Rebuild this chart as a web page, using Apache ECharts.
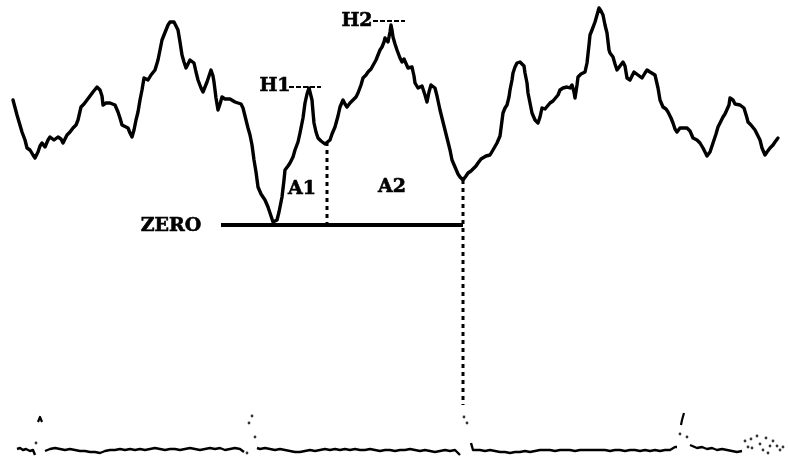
<!DOCTYPE html>
<html><head><meta charset="utf-8">
<script src="https://cdn.jsdelivr.net/npm/echarts@6/dist/echarts.min.js"></script>
<style>html,body{margin:0;padding:0;background:#fff}#c{width:788px;height:458px}</style>
</head><body><div id="c"></div>
<script>
// Main waveform: time (sample) and amplitude relative to ZERO line
var waveT = [13,17,22,25,27,30,33,35,38,40,42,45,48,50,54,58,61,63,67,70,73,76,78,81,84,87,90,93,97,100,102,103,106,110,115,118,120,122,124,128,130,132,134,136,138,140,142,144,146,148,151,155,158,160,162,164,166,168,170,172,174,176,178,180,182,184,186,188,190,192,194,196,198,201,203,205,207,209,211,213,214,216,218,220,222,225,227,230,232,235,238,241,243,246,248,250,252,254,256,258,261,265,268,270,272,273,275,277,279,282,284,285,288,290,293,295,298,300,303,305,307,309,310,312,313,314,316,318,321,323,325,327,330,332,335,338,340,343,345,347,350,353,356,358,361,363,366,368,371,373,376,378,380,382,384,385,387,388,390,391,392,393,395,397,400,402,404,405,408,410,412,414,415,418,420,422,423,425,427,429,431,433,435,437,440,442,445,448,450,452,455,458,460,463,466,468,471,473,476,478,481,483,486,490,493,497,500,503,505,507,509,510,512,513,515,517,520,522,524,525,527,528,530,532,535,538,540,542,545,547,550,553,555,558,560,563,567,570,572,574,575,577,578,581,585,587,589,590,592,595,597,599,601,603,605,607,609,610,613,615,617,620,623,625,627,630,632,634,635,638,640,642,643,645,647,650,652,655,656,658,660,663,666,668,671,673,675,677,680,684,687,690,692,693,697,700,703,705,707,708,710,713,716,718,721,723,725,727,729,730,732,733,735,737,740,742,744,745,747,748,751,753,755,757,758,760,762,765,767,770,773,775,778];
var waveV = [125,110,93,85,77,75,70,67,73,79,82,78,85,88,85,88,86,82,90,93,97,100,105,118,121,125,129,133,138,135,129,120,122,122,120,113,107,100,98,97,92,88,95,105,113,125,135,147,149,145,150,155,165,175,185,190,195,200,203,204,203,199,195,183,170,163,157,161,165,167,162,153,145,137,133,138,143,149,155,149,143,127,115,121,128,126,125,126,125,123,122,121,117,105,97,90,80,65,53,38,31,25,18,12,6,3,3,5,13,28,45,55,59,62,68,75,83,92,107,122,131,137,135,125,113,102,93,87,84,82,81,83,85,91,98,109,118,125,121,118,122,125,128,132,140,147,150,153,156,158,165,170,175,178,183,187,185,183,193,200,195,188,181,175,167,163,166,165,157,159,158,149,142,137,135,139,138,130,123,133,140,140,137,129,115,107,95,83,75,65,58,51,48,45,49,52,54,55,59,62,66,68,69,70,75,82,89,112,117,120,128,135,145,152,158,162,163,163,159,152,142,132,122,112,105,102,108,117,116,117,122,124,125,130,135,137,138,137,140,133,127,140,148,151,153,162,180,190,195,203,210,217,214,210,200,192,175,172,168,161,155,159,163,159,147,145,145,153,155,150,152,147,148,152,155,153,153,150,148,137,125,118,116,113,107,102,96,93,97,97,97,94,92,87,85,82,77,73,69,68,73,82,91,98,104,108,111,112,120,127,126,125,121,122,120,118,117,115,107,103,100,98,95,93,89,85,77,70,73,77,80,83,87];

// Lower trace (null = pen gap)
var lowT = [17,20,23,26,30,33,35,36,45,50,55,60,65,70,75,80,85,90,95,100,105,110,115,120,125,130,135,140,145,150,155,160,165,170,175,180,185,190,195,200,205,210,215,220,225,230,235,240,244,245,257,260,265,270,275,280,285,290,295,300,305,310,315,320,325,330,335,340,345,350,355,360,365,370,375,380,385,390,395,400,405,410,415,420,425,430,435,440,445,450,455,457,460,461,471,473,475,480,485,490,495,500,505,510,515,520,525,530,535,540,545,550,555,560,565,570,575,580,585,590,595,600,605,610,615,620,625,630,635,640,645,650,655,660,665,670,675,677,678,690,692,697,702,707,712,717,722,727,732,737,742];
var lowV = [-224,-223,-225,-224,-226,-225,-230,null,-226,-224,-223,-224,-225,-224,-225,-226,-226,-227,-227,-228,-226,-225,-225,-224,-225,-224,-225,-224,-225,-224,-223,-224,-225,-224,-224,-225,-224,-223,-224,-225,-224,-223,-224,-223,-225,-224,-223,-224,-227,null,-223,-224,-223,-224,-225,-224,-225,-226,-227,-227,-226,-225,-226,-225,-224,-225,-224,-225,-224,-225,-224,-225,-225,-224,-225,-226,-225,-225,-226,-225,-225,-224,-225,-226,-225,-226,-227,-226,-225,-226,-225,-226,-230,null,-218,-225,-225,-225,-226,-225,-226,-227,-227,-228,-227,-227,-226,-227,-226,-225,-225,-225,-226,-225,-225,-225,-226,-225,-225,-225,-225,-225,-225,-226,-225,-225,-226,-225,-225,-226,-225,-226,-225,-226,-225,-225,-222,-222,null,-220,-222,-223,-222,-224,-223,-225,-224,-225,-226,-227,-226];
// Short pen flicks at the beat marks
var flickT = [38,40,42,43,681,682,684];
var flickV = [-197,-192,-197,null,-200,-195,-188];
// Scattered pen specks on the lower trace
var speckT = [36,252,249,255,247,464,467,680,687,745,748,752,757,760,763,766,770,773,777,780,751,768,783];
var speckV = [-218,-191,-198,-212,-228,-192,-198,-209,-212,-216,-222,-223,-211,-219,-225,-213,-221,-216,-221,-225,-214,-228,-222];

// Annotation markers
var zeroLineT = [221,463];
var split1T = 327, split1V = [83,0];
var split2T = 463, split2V = [45,-180];
var h1T = [289,321], h1V = 138;
var h2T = [373,405], h2V = 204;
var labelText = ['ZERO','A1','A2','H1','H2'];
var labelT = [171,302,392,275,357];
var labelV = [-1,36,38,139,204];

function pairs(t, v){ return t.map(function(x,i){ return [x, v[i] === null ? '-' : v[i]]; }); }

var chart = echarts.init(document.getElementById('c'), null, {renderer:'canvas'});
var ink = '#000000';
chart.setOption({
  animation:false,
  backgroundColor:'#ffffff',
  grid:{left:0,right:0,top:0,bottom:0},
  xAxis:{type:'value',min:0,max:788,show:false},
  yAxis:{type:'value',min:-233,max:225,show:false},
  series:[
    {type:'line',data:pairs(waveT,waveV),showSymbol:false,symbol:'none',
     lineStyle:{color:ink,width:3.4,join:'round',cap:'round'}},
    {type:'line',data:pairs(lowT,lowV),showSymbol:false,symbol:'none',connectNulls:false,
     lineStyle:{color:ink,width:2.4,join:'round'}},
    {type:'line',data:pairs(flickT,flickV),showSymbol:false,symbol:'none',connectNulls:false,
     lineStyle:{color:ink,width:2.2,join:'round'}},
    {type:'scatter',data:pairs(speckT,speckV),symbolSize:2.8,itemStyle:{color:ink}},
    {type:'line',data:[[zeroLineT[0],0],[zeroLineT[1],0]],symbol:'none',
     lineStyle:{color:ink,width:4}},
    {type:'line',data:[[split1T,split1V[0]],[split1T,split1V[1]]],symbol:'none',
     lineStyle:{color:ink,width:3,type:[4,4]}},
    {type:'line',data:[[split2T,split2V[0]],[split2T,split2V[1]]],symbol:'none',
     lineStyle:{color:ink,width:3,type:[4,4]}},
    {type:'line',data:[[h1T[0],h1V],[h1T[1],h1V]],symbol:'none',
     lineStyle:{color:ink,width:2,type:[5,2]}},
    {type:'line',data:[[h2T[0],h2V],[h2T[1],h2V]],symbol:'none',
     lineStyle:{color:ink,width:2,type:[5,2]}},
    {type:'scatter',symbolSize:0,itemStyle:{color:ink},
     data:labelText.map(function(s,i){ return {name:s,value:[labelT[i],labelV[i]]}; }),
     label:{show:true,position:'inside',formatter:'{b}',color:'#000',opacity:1,
       textBorderWidth:0.6,textBorderColor:'#000',
       fontFamily:'DejaVu Serif',fontWeight:'bold',fontSize:19}}
  ]
});
</script></body></html>
